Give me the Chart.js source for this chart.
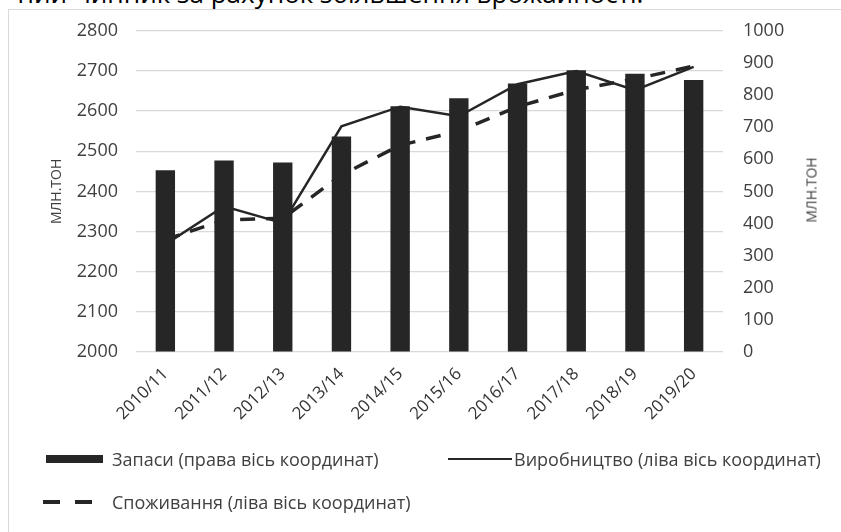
<!DOCTYPE html>
<html>
<head>
<meta charset="utf-8">
<script src="https://cdn.jsdelivr.net/npm/chart.js@4.4.1/dist/chart.umd.min.js"></script>
<style>
  body { margin: 0; background: #fff; overflow: hidden; }
  #wrap { position: relative; width: 841px; height: 532px; overflow: hidden; font-family: "Open Sans", sans-serif; color: #404040; }
  #caption { position: absolute; left: 75px; top: -20px; font-size: 26px; line-height: 26px; color: #000; white-space: nowrap; }
  #caption span { position: absolute; right: 100%; margin-right: 8px; }
  #frame { position: absolute; left: 8px; top: 9px; width: 900px; height: 600px; border: 1px solid #d9d9d9; }
  #box { position: absolute; left: 0; top: 0; width: 841px; height: 532px; }
  #ytitle2 { position: absolute; left: 811px; top: 190px; font-size: 14px; transform: translate(-50%, -50%) rotate(-90deg); white-space: nowrap; }
  .lg { position: absolute; font-size: 18px; white-space: nowrap; line-height: 20px; }
  .sw { position: absolute; }
</style>
</head>
<body>
<div id="wrap">
  <div id="caption"><span>ний</span>чинник за рахунок збільшення врожайності.</div>
  <div id="frame"></div>
  <div id="box"><canvas id="chart"></canvas></div>
  <div id="ytitle2"></div>
  <div id="legend"></div>
</div>
<script>
// дані з рисунка
const years = ['2010/11', '2011/12', '2012/13', '2013/14', '2014/15', '2015/16', '2016/17', '2017/18', '2018/19', '2019/20'];
const stocks = [566, 596, 590, 671, 765, 790, 836, 877, 866, 847];           // права вісь
const production = [2268, 2363, 2321, 2562, 2611, 2587, 2667, 2700, 2652, 2710]; // ліва вісь
const consumption = [2280, 2329, 2333, 2441, 2515, 2550, 2611, 2653, 2680, 2712]; // ліва вісь
const seriesLabels = ['Запаси (права вісь координат)', 'Виробництво (ліва вісь координат)', 'Споживання (ліва вісь координат)'];
const unitLabel = 'МЛН.ТОН';

const ink = '#262626';
const tickFont = { family: 'Open Sans', size: 18 };
const plain = v => String(v); // без розділювача тисяч

document.getElementById('ytitle2').textContent = unitLabel;

const ctx = document.getElementById('chart').getContext('2d');
const chart = new Chart(ctx, {
  type: 'bar',
  data: {
    labels: years,
    datasets: [
      {
        type: 'line',
        label: seriesLabels[1],
        data: production,
        yAxisID: 'y',
        borderColor: ink,
        borderWidth: 2.5,
        pointRadius: 0,
        tension: 0,
        order: 1
      },
      {
        type: 'line',
        label: seriesLabels[2],
        data: consumption,
        yAxisID: 'y',
        borderColor: ink,
        borderWidth: 3.5,
        borderDash: [15, 11],
        pointRadius: 0,
        tension: 0,
        order: 1
      },
      {
        label: seriesLabels[0],
        data: stocks,
        yAxisID: 'y1',
        backgroundColor: ink,
        barPercentage: 0.33,
        categoryPercentage: 1,
        order: 2
      }
    ]
  },
  options: {
    responsive: true,
    maintainAspectRatio: false,
    animation: false,
    layout: { padding: { top: 29, bottom: 90, left: 0, right: 0 } },
    plugins: { legend: { display: false }, tooltip: { enabled: false } },
    scales: {
      x: {
        grid: { display: false },
        border: { display: false },
        ticks: { color: '#333', font: { family: 'Open Sans', size: 17 }, maxRotation: 45, minRotation: 45, padding: 4 },
        afterFit: s => { s.height = 90; }
      },
      y: {
        position: 'left',
        min: 2000,
        max: 2800,
        ticks: { stepSize: 100, color: '#404040', font: tickFont, padding: 18, callback: plain },
        grid: { color: '#d9d9d9', lineWidth: 1.3, drawTicks: false },
        border: { display: false },
        title: { display: true, text: unitLabel, color: '#404040', font: { family: 'Open Sans', size: 14 }, padding: { top: 49, bottom: 0 } },
        afterFit: s => { s.width = 136; }
      },
      y1: {
        position: 'right',
        min: 0,
        max: 1000,
        ticks: { stepSize: 100, color: '#404040', font: tickFont, padding: 20, callback: plain },
        grid: { drawOnChartArea: false, drawTicks: false },
        border: { display: false },
        afterFit: s => { s.width = 118; }
      }
    }
  }
});

// легенда під рисунком
const legend = document.getElementById('legend');
function addItem(x, y, text) {
  const d = document.createElement('div');
  d.className = 'lg';
  d.style.left = x + 'px';
  d.style.top = (y - 10) + 'px';
  d.textContent = text;
  legend.appendChild(d);
}
function addSwatch(x, y, w, h) {
  const s = document.createElement('div');
  s.className = 'sw';
  s.style.left = x + 'px';
  s.style.top = (y - h / 2) + 'px';
  s.style.width = w + 'px';
  s.style.height = h + 'px';
  s.style.background = ink;
  legend.appendChild(s);
}
addSwatch(46, 459, 57, 8);
addItem(112, 459, seriesLabels[0]);
addSwatch(448, 459, 64, 2.5);
addItem(514, 459, seriesLabels[1]);
addSwatch(43, 502, 17, 4);
addSwatch(75, 502, 17, 4);
addItem(112, 502, seriesLabels[2]);
</script>
</body>
</html>
